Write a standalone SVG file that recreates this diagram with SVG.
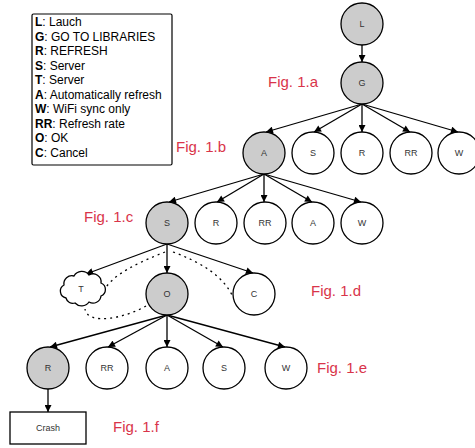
<svg xmlns="http://www.w3.org/2000/svg" width="475" height="448" viewBox="0 0 475 448">
<style>
.n{stroke:#000;stroke-width:1.3;fill:#fff}
.g{fill:#ccc}
.t{font-family:"Liberation Sans",Arial,sans-serif;font-size:9px;fill:#333;text-anchor:middle}
.fig{font-family:"Liberation Sans",Arial,sans-serif;font-size:15px;fill:#d9344a}
.lg{font-family:"Liberation Sans",Arial,sans-serif;font-size:12px;fill:#000}
.e{stroke:#000;stroke-width:1.3;fill:none;marker-end:url(#ah)}
.d{stroke:#000;stroke-width:1.3;fill:none;stroke-dasharray:2 4}
</style>
<defs>
<marker id="ah" viewBox="0 0 10 10" refX="10" refY="5" markerWidth="8" markerHeight="7" markerUnits="userSpaceOnUse" orient="auto">
<path d="M0,0 L10,5 L0,10 z" fill="#000"/>
</marker>
</defs>
<rect width="475" height="448" fill="#fff"/>
<g id="legend">
<rect x="32" y="14" width="140" height="151" rx="1.5" fill="#fff" stroke="#000" stroke-width="1.2"/>
<text class="lg" x="35" y="26"><tspan font-weight="bold">L</tspan>: Lauch</text>
<text class="lg" x="35" y="40.5"><tspan font-weight="bold">G</tspan>: GO TO LIBRARIES</text>
<text class="lg" x="35" y="55"><tspan font-weight="bold">R</tspan>: REFRESH</text>
<text class="lg" x="35" y="69.5"><tspan font-weight="bold">S</tspan>: Server</text>
<text class="lg" x="35" y="84"><tspan font-weight="bold">T</tspan>: Server</text>
<text class="lg" x="35" y="98.5"><tspan font-weight="bold">A</tspan>: Automatically refresh</text>
<text class="lg" x="35" y="113"><tspan font-weight="bold">W</tspan>: WiFi sync only</text>
<text class="lg" x="35" y="127.5"><tspan font-weight="bold">RR</tspan>: Refresh rate</text>
<text class="lg" x="35" y="142"><tspan font-weight="bold">O</tspan>: OK</text>
<text class="lg" x="35" y="156.5"><tspan font-weight="bold">C</tspan>: Cancel</text>
</g>
<g id="labels">
<text class="fig" x="268" y="87">Fig. 1.a</text>
<text class="fig" x="176" y="152">Fig. 1.b</text>
<text class="fig" x="84" y="222">Fig. 1.c</text>
<text class="fig" x="311" y="296">Fig. 1.d</text>
<text class="fig" x="317" y="373">Fig. 1.e</text>
<text class="fig" x="113" y="432">Fig. 1.f</text>
</g>
<g id="connectors">
<path class="e" d="M362,45 V62"/>
<path class="e" d="M362,104 L266,132"/>
<path class="e" d="M362,104 L314,132"/>
<path class="e" d="M362,104 V132"/>
<path class="e" d="M362,104 L410,132"/>
<path class="e" d="M362,104 L458,132"/>
<path class="e" d="M264,174 L169,202"/>
<path class="e" d="M264,174 L217,202"/>
<path class="e" d="M264,174 V202"/>
<path class="e" d="M264,174 L312,202"/>
<path class="e" d="M264,174 L361,202"/>
<path class="e" d="M167,244 L86,274"/>
<path class="e" d="M167,244 V273"/>
<path class="e" d="M167,244 L253,273"/>
<path class="e" d="M167,315 L50,347"/>
<path class="e" d="M167,315 L108,347"/>
<path class="e" d="M167,315 V347"/>
<path class="e" d="M167,315 L223,347"/>
<path class="e" d="M167,315 L285,347"/>
<path class="e" d="M48,389 V412"/>
<path class="d" d="M165,252 C140,262 112,274 103,292"/>
<path class="d" d="M173,252 C200,262 222,275 232,295"/>
<path class="d" d="M146,306 C125,318 88,326 85,309"/>
</g>
<g id="L"><circle class="n g" cx="362" cy="24" r="21"/><text class="t" x="362" y="27">L</text></g>
<g id="G"><circle class="n g" cx="362" cy="83" r="21"/><text class="t" x="362" y="86">G</text></g>
<g id="A1"><circle class="n g" cx="264" cy="153" r="21"/><text class="t" x="264" y="156">A</text></g>
<g id="S1"><circle class="n" cx="313" cy="153" r="21"/><text class="t" x="313" y="156">S</text></g>
<g id="R1"><circle class="n" cx="362" cy="153" r="21"/><text class="t" x="362" y="156">R</text></g>
<g id="RR1"><circle class="n" cx="411" cy="153" r="21"/><text class="t" x="411" y="156">RR</text></g>
<g id="W1"><circle class="n" cx="459" cy="153" r="21"/><text class="t" x="459" y="156">W</text></g>
<g id="S2"><circle class="n g" cx="167" cy="223" r="21"/><text class="t" x="167" y="226">S</text></g>
<g id="R2"><circle class="n" cx="216" cy="223" r="21"/><text class="t" x="216" y="226">R</text></g>
<g id="RR2"><circle class="n" cx="265" cy="223" r="21"/><text class="t" x="265" y="226">RR</text></g>
<g id="A2"><circle class="n" cx="313" cy="223" r="21"/><text class="t" x="313" y="226">A</text></g>
<g id="W2"><circle class="n" cx="362" cy="223" r="21"/><text class="t" x="362" y="226">W</text></g>
<g id="T"><path class="n" d="M66,298 a7,7 0 0 1 -2,-13 a8,8 0 0 1 10,-9 a9,9 0 0 1 15,-1 a8,8 0 0 1 12,8 a7,7 0 0 1 0,13 a8,8 0 0 1 -12,6 a9,9 0 0 1 -14,1 a7,7 0 0 1 -9,-5 z"/><text class="t" x="81" y="292">T</text></g>
<g id="O"><circle class="n g" cx="167" cy="294" r="21"/><text class="t" x="167" y="297">O</text></g>
<g id="C"><circle class="n" cx="254" cy="294" r="21"/><text class="t" x="254" y="297">C</text></g>
<g id="R3"><circle class="n g" cx="48" cy="368" r="21"/><text class="t" x="48" y="371">R</text></g>
<g id="RR3"><circle class="n" cx="107" cy="368" r="21"/><text class="t" x="107" y="371">RR</text></g>
<g id="A3"><circle class="n" cx="167" cy="368" r="21"/><text class="t" x="167" y="371">A</text></g>
<g id="S3"><circle class="n" cx="224" cy="368" r="21"/><text class="t" x="224" y="371">S</text></g>
<g id="W3"><circle class="n" cx="286" cy="368" r="21"/><text class="t" x="286" y="371">W</text></g>
<g id="Crash"><rect x="10" y="412" width="76" height="32" fill="#fff" stroke="#000" stroke-width="1.3"/><text class="t" x="48" y="431">Crash</text></g>
</svg>
